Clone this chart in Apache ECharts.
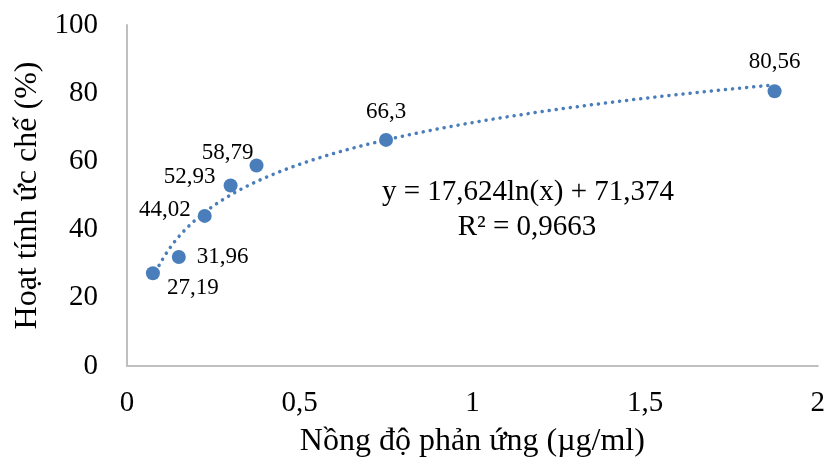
<!DOCTYPE html>
<html><head><meta charset="utf-8">
<script src="https://cdn.jsdelivr.net/npm/echarts@6/dist/echarts.min.js"></script>
<style>html,body{margin:0;padding:0;background:#fff}#c{width:828px;height:464px}</style>
</head><body><div id="c"></div>
<script>
const concentrations = [0.075, 0.15, 0.225, 0.3, 0.375, 0.75, 1.875];
const inhibition = [27.19, 31.96, 44.02, 52.93, 58.79, 66.3, 80.56];
const labelTexts = ['27,19', '31,96', '44,02', '52,93', '58,79', '66,3', '80,56'];
const trendSlope = 17.624, trendIntercept = 71.374;
const trendEquation = 'y = 17,624ln(x) + 71,374';
const trendR2 = 'R² = 0,9663';
const xTitle = 'Nồng độ phản ứng (µg/ml)';
const yTitle = 'Hoạt tính ức chế (%)';

const FONT = '"Liberation Serif", "Times New Roman", serif';
const labelPlacement = [
  {position: 'bottom', offset: [40, -9]},
  {position: 'right', offset: [6, 0]},
  {position: 'left', offset: [-2, -6]},
  {position: 'left', offset: [-3, -9]},
  {position: 'left', offset: [9, -13]},
  {position: 'top', offset: [0, -4]},
  {position: 'top', offset: [0, -6]}
];
const points = concentrations.map((x, i) => ({
  value: [x, inhibition[i]],
  label: Object.assign({show: true, formatter: labelTexts[i]}, labelPlacement[i])
}));
// trendline from the equation shown in the chart
const trend = [];
const x0 = concentrations[0], x1 = concentrations[concentrations.length - 1];
for (let k = 0; k <= 300; k++) {
  const x = x0 + (x1 - x0) * k / 300;
  trend.push([x, trendSlope * Math.log(x) + trendIntercept]);
}
const chart = echarts.init(document.getElementById('c'));
chart.setOption({
  animation: false,
  grid: {left: 127, right: 9, top: 25, bottom: 98},
  xAxis: {
    type: 'value', min: 0, max: 2, interval: 0.5,
    name: xTitle, nameLocation: 'middle', nameGap: 60,
    nameTextStyle: {fontFamily: FONT, fontSize: 32, color: '#000'},
    axisLine: {show: true, lineStyle: {color: '#BFBFBF', width: 2}},
    axisTick: {show: false}, splitLine: {show: false},
    axisLabel: {fontFamily: FONT, fontSize: 29, color: '#000', margin: 23,
      formatter: v => String(v).replace('.', ',')}
  },
  yAxis: {
    type: 'value', min: 0, max: 100, interval: 20,
    name: yTitle, nameLocation: 'middle', nameGap: 81,
    nameTextStyle: {fontFamily: FONT, fontSize: 32, color: '#000'},
    axisLine: {show: true, lineStyle: {color: '#BFBFBF', width: 2}},
    axisTick: {show: false}, splitLine: {show: false},
    axisLabel: {fontFamily: FONT, fontSize: 29, color: '#000', margin: 29}
  },
  series: [
    {type: 'line', data: trend, showSymbol: false, smooth: false, silent: true,
      lineStyle: {color: '#4A7EBB', width: 3.5, type: [0.1, 7], cap: 'round'}, z: 2},
    {type: 'scatter', data: points, symbolSize: 14,
      itemStyle: {color: '#4A7EBB', opacity: 1}, z: 3,
      label: {fontFamily: FONT, fontSize: 23, color: '#000', opacity: 1}}
  ],
  graphic: [
    {type: 'text', x: 528, y: 178, style: {text: trendEquation, font: '29px ' + FONT, fill: '#000', align: 'center', verticalAlign: 'top'}},
    {type: 'text', x: 527, y: 213, style: {text: trendR2, font: '29px ' + FONT, fill: '#000', align: 'center', verticalAlign: 'top'}}
  ]
});
</script></body></html>
